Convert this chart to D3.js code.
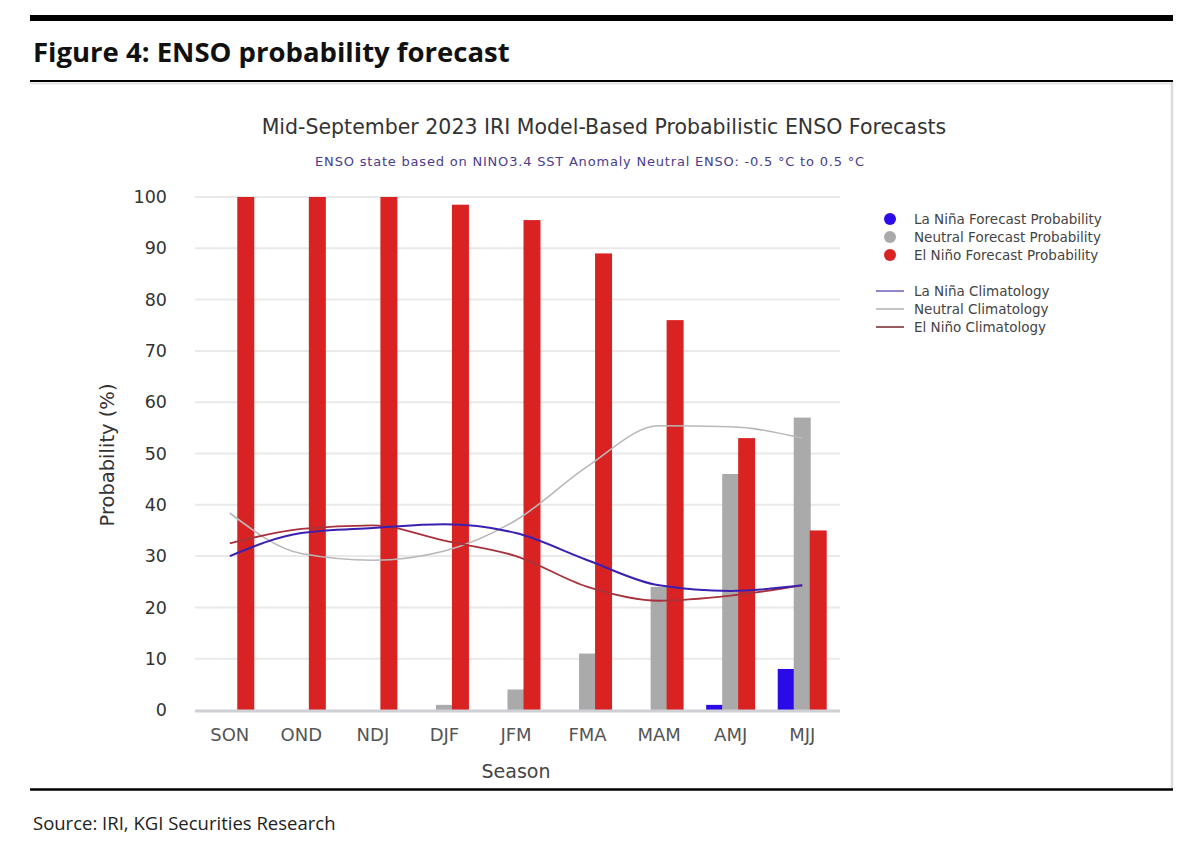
<!DOCTYPE html>
<html lang="en">
<head>
<meta charset="UTF-8">
<title>ENSO probability forecast</title>
<script src="https://cdnjs.cloudflare.com/ajax/libs/d3/7.8.5/d3.min.js"></script>
<style>
    body { margin: 0; background: #fff; }
    svg { display: block; }
    .page-text { font-family: "Open Sans", "Noto Sans", sans-serif; }
    .chart-text { font-family: "DejaVu Sans", Verdana, sans-serif; }
</style>
</head>
<body>
<svg id="chart" width="1200" height="847"></svg>
<script>
const seasons = ["SON", "OND", "NDJ", "DJF", "JFM", "FMA", "MAM", "AMJ", "MJJ"];
const laNinaProb  = [0, 0, 0, 0, 0, 0, 0, 1, 8];
const neutralProb = [0, 0, 0, 1, 4, 11, 24, 46, 57];
const elNinoProb  = [100, 100, 100, 98.5, 95.5, 89, 76, 53, 35];
const laNinaClim  = [30, 34.5, 35.5, 36.2, 34.5, 29.2, 24.3, 23.2, 24.3];
const neutralClim = [38.4, 30.5, 29.2, 31, 37, 47.5, 55.4, 55.2, 53];
const elNinoClim  = [32.5, 35.3, 36, 33, 30, 24, 21.3, 22.3, 24.3];
const yTicks = [0, 10, 20, 30, 40, 50, 60, 70, 80, 90, 100];

const colors = {
    laNina: "#2a0ae8", neutral: "#aaaaaa", elNino: "#d92323",
    laNinaLine: "#3a1fb0", neutralLine: "#b8b8b8", elNinoLine: "#a8323c"
};

const svg = d3.select("#chart");

// page frame
svg.append("rect").attr("x", 30).attr("y", 15).attr("width", 1143).attr("height", 6).attr("fill", "#000");
svg.append("text").attr("class", "page-text").attr("x", 33).attr("y", 62)
    .attr("font-size", 27.5).attr("font-weight", "bold").attr("fill", "#111")
    .text("Figure 4: ENSO probability forecast");
svg.append("line").attr("x1", 30).attr("x2", 1173).attr("y1", 81).attr("y2", 81).attr("stroke", "#000").attr("stroke-width", 2);
svg.append("line").attr("x1", 30).attr("x2", 1172).attr("y1", 83.5).attr("y2", 83.5).attr("stroke", "#e2e2e2").attr("stroke-width", 2);
svg.append("line").attr("x1", 1172).attr("x2", 1172).attr("y1", 82).attr("y2", 789).attr("stroke", "#dcdcdc").attr("stroke-width", 2.5);
svg.append("line").attr("x1", 30).attr("x2", 1173).attr("y1", 789.5).attr("y2", 789.5).attr("stroke", "#000").attr("stroke-width", 2.5);
svg.append("text").attr("class", "page-text").attr("x", 33).attr("y", 830)
    .attr("font-size", 18.5).attr("fill", "#222")
    .text("Source: IRI, KGI Securities Research");

// chart titles
svg.append("text").attr("class", "chart-text").attr("x", 604).attr("y", 134)
    .attr("text-anchor", "middle").attr("font-size", 20.5).attr("fill", "#333")
    .text("Mid-September 2023 IRI Model-Based Probabilistic ENSO Forecasts");
svg.append("text").attr("class", "chart-text").attr("x", 590).attr("y", 166)
    .attr("text-anchor", "middle").attr("font-size", 13).attr("letter-spacing", 0.8).attr("fill", "#4a3c8c")
    .text("ENSO state based on NINO3.4 SST Anomaly Neutral ENSO: -0.5 °C to 0.5 °C");

const x = d3.scaleBand().domain(seasons).range([194, 838]).padding(0);
const y = d3.scaleLinear().domain([0, 100]).range([710, 197]);
const inner = d3.scaleBand().domain(["laNina", "neutral", "elNino"]).range([-24, 24]);
const barW = 17;

// gridlines
svg.append("g").selectAll("line").data(yTicks.filter(d => d > 0)).join("line")
    .attr("x1", 195).attr("x2", 840)
    .attr("y1", d => y(d)).attr("y2", d => y(d))
    .attr("stroke", "#e9e9e9").attr("stroke-width", 2);

// y axis labels
const yAxis = svg.append("g").attr("transform", "translate(172,0)")
    .call(d3.axisLeft(y).tickValues(yTicks).tickSize(0).tickPadding(5));
yAxis.select(".domain").remove();
yAxis.selectAll("text").attr("class", "chart-text").attr("font-size", 17.5).attr("fill", "#333");

// x axis labels
const xAxis = svg.append("g").attr("transform", "translate(0,724)")
    .call(d3.axisBottom(x).tickSize(0).tickPadding(4));
xAxis.select(".domain").remove();
xAxis.selectAll("text").attr("class", "chart-text").attr("font-size", 18).attr("fill", "#555");

svg.append("text").attr("class", "chart-text").attr("x", 516).attr("y", 778)
    .attr("text-anchor", "middle").attr("font-size", 19).attr("fill", "#444").text("Season");
svg.append("text").attr("class", "chart-text")
    .attr("transform", "translate(114,455) rotate(-90)")
    .attr("text-anchor", "middle").attr("font-size", 19.5).attr("fill", "#333").text("Probability (%)");

// bars
const barSeries = [
    { key: "laNina", values: laNinaProb },
    { key: "neutral", values: neutralProb },
    { key: "elNino", values: elNinoProb }
];
barSeries.forEach(s => {
    svg.append("g").selectAll("rect").data(s.values.map((v, i) => ({ season: seasons[i], v })))
        .join("rect")
        .attr("x", d => x(d.season) + x.bandwidth() / 2 + inner(s.key) + inner.bandwidth() / 2 - barW / 2)
        .attr("width", barW)
        .attr("y", d => y(d.v))
        .attr("height", d => y(0) - y(d.v))
        .attr("fill", colors[s.key]);
});

// baseline
svg.append("line").attr("x1", 195).attr("x2", 840).attr("y1", 711).attr("y2", 711)
    .attr("stroke", "#cfcfd6").attr("stroke-width", 3);

// climatology lines
const line = d3.line()
    .x((d, i) => x(seasons[i]) + x.bandwidth() / 2)
    .y(d => y(d))
    .curve(d3.curveMonotoneX);
[
    { values: neutralClim, color: colors.neutralLine, w: 1.6 },
    { values: elNinoClim, color: colors.elNinoLine, w: 1.8 },
    { values: laNinaClim, color: colors.laNinaLine, w: 2 }
].forEach(s => {
    svg.append("path").attr("d", line(s.values)).attr("fill", "none")
        .attr("stroke", s.color).attr("stroke-width", s.w);
});

// legend
const legendDots = [
    { label: "La Niña Forecast Probability", color: colors.laNina },
    { label: "Neutral Forecast Probability", color: colors.neutral },
    { label: "El Niño Forecast Probability", color: colors.elNino }
];
const legendLines = [
    { label: "La Niña Climatology", color: "#8f86cc" },
    { label: "Neutral Climatology", color: "#c4c4c4" },
    { label: "El Niño Climatology", color: "#9a5a60" }
];
const lg = svg.append("g");
legendDots.forEach((d, i) => {
    const cy = 219 + i * 18;
    lg.append("circle").attr("cx", 890).attr("cy", cy).attr("r", 6).attr("fill", d.color);
    lg.append("text").attr("class", "chart-text").attr("x", 914).attr("y", cy + 4.5)
        .attr("font-size", 13.5).attr("fill", "#444").text(d.label);
});
legendLines.forEach((d, i) => {
    const cy = 291 + i * 18;
    lg.append("line").attr("x1", 876).attr("x2", 904).attr("y1", cy).attr("y2", cy)
        .attr("stroke", d.color).attr("stroke-width", 2);
    lg.append("text").attr("class", "chart-text").attr("x", 914).attr("y", cy + 4.5)
        .attr("font-size", 13.5).attr("fill", "#444").text(d.label);
});
</script>
</body>
</html>
